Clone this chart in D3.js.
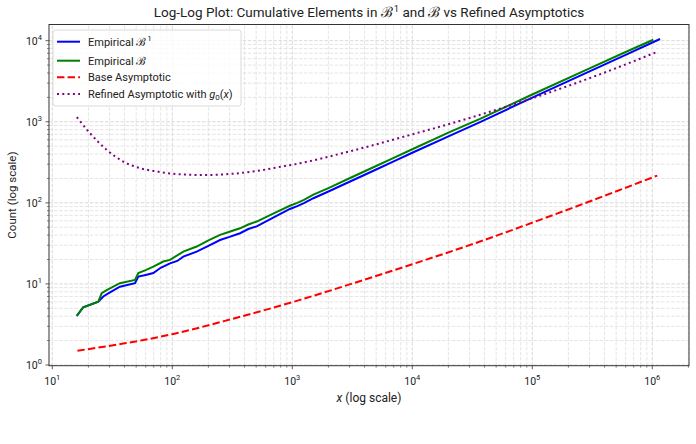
<!DOCTYPE html>
<html>
<head>
<meta charset="utf-8">
<script src="https://cdn.jsdelivr.net/npm/d3@7"></script>
<style>
  body { margin: 0; background: #fff; }
  svg { font-family: Roboto, "Open Sans", sans-serif; }
  .grid line { stroke: #cfcfcf; stroke-width: 0.8; stroke-dasharray: 3.5,1.6; }
  .grid line.minor { stroke: #dedede; }
</style>
</head>
<body>
<script>
"use strict";

// data (x, count)
var blueX = [16, 18.1, 24.2, 26.6, 30, 36.6, 48.9, 52.1, 60, 69.5, 80, 95.7, 110, 123.5, 159.7, 200, 250, 300, 367, 430, 505, 700, 955, 1100, 1250, 1500, 2000, 3000, 5000, 7000, 10000, 20650, 36700, 100000, 300000, 600000, 1160000];
var blueY = [4.03, 5.15, 6.03, 7.0, 7.8, 9.25, 10.2, 12.3, 12.9, 13.6, 15.8, 17.9, 19.2, 21.7, 25, 29.5, 34.8, 38, 42.2, 47.5, 51.3, 66, 84, 91, 99, 114, 138, 182, 258, 325, 415, 675, 990, 1990, 4180, 6700, 10500];

var greenX = [16, 18.1, 24.2, 25.8, 28.4, 36.6, 48.9, 52.1, 60, 69.5, 84.1, 95.7, 123.5, 159.7, 200, 250, 300, 367, 430, 505, 700, 955, 1100, 1250, 1500, 2000, 3000, 5000, 7000, 10000, 20650, 36700, 100000, 300000, 600000, 1020000];
var greenY = [4.03, 5.15, 6.03, 7.67, 8.4, 10.2, 11.2, 13.6, 14.8, 16.3, 18.9, 19.8, 25, 28.9, 34.5, 40.2, 44, 48.5, 54, 58.8, 74, 92, 100, 109, 126, 152, 201, 285, 358, 458, 750, 1085, 2170, 4550, 7250, 10280];

var baseX = [16.2, 25, 40, 57.5, 100, 316, 1160, 3162, 10000, 36600, 116000, 316000, 1100000];
var baseY = [1.50, 1.65, 1.85, 2.03, 2.4, 3.7, 6.35, 10.1, 17.5, 33.3, 61.7, 107, 217];

var refX = [16, 20.6, 28.4, 39, 53.8, 74, 102, 140, 194, 266, 367, 505, 794, 1000, 3162, 10000, 20650, 36700, 100000, 316000, 1090000];
var refY = [1143, 724, 451, 323, 268, 244, 228, 222, 220, 224, 233, 247, 278, 295, 440, 700, 945, 1220, 1950, 3550, 7250];

var xTicks = [1, 2, 3, 4, 5, 6];
var yTicks = [0, 1, 2, 3, 4];

var width = 696, height = 444;
var margin = {top: 24.5, right: 7, bottom: 78.3, left: 49};

var x = d3.scaleLog()
    .domain([Math.pow(10, 0.9725), Math.pow(10, 6.306)])
    .range([margin.left, width - margin.right]);
var y = d3.scaleLog()
    .domain([Math.pow(10, -0.009), Math.pow(10, 4.2)])
    .range([height - margin.bottom, margin.top]);

var svg = d3.select("body").append("svg")
    .attr("width", width)
    .attr("height", height);

var x0 = x.range()[0], x1 = x.range()[1];
var y0 = y.range()[0], y1 = y.range()[1];

// grid, major + minor
var grid = svg.append("g").attr("class", "grid");
function decadeTicks(scale){
  var d = scale.domain(), out = [];
  for (var e = Math.floor(Math.log10(d[0])); e <= Math.ceil(Math.log10(d[1])); e++) {
    for (var m = 1; m < 10; m++) {
      var v = m * Math.pow(10, e);
      if (v >= d[0] && v <= d[1]) out.push({v: v, major: m == 1});
    }
  }
  return out;
}
var xt = decadeTicks(x), yt = decadeTicks(y);
grid.selectAll(".gx").data(xt).enter().append("line")
    .attr("class", function(d){ return d.major ? "major" : "minor"; })
    .attr("x1", function(d){ return x(d.v); }).attr("x2", function(d){ return x(d.v); })
    .attr("y1", y0).attr("y2", y1);
grid.selectAll(".gy").data(yt).enter().append("line")
    .attr("class", function(d){ return d.major ? "major" : "minor"; })
    .attr("y1", function(d){ return y(d.v); }).attr("y2", function(d){ return y(d.v); })
    .attr("x1", x0).attr("x2", x1);

// clip
svg.append("defs").append("clipPath").attr("id", "clip")
  .append("rect").attr("x", x0).attr("y", y1).attr("width", x1 - x0).attr("height", y0 - y1);

function pts(xs, ys){ return xs.map(function(v, i){ return [v, ys[i]]; }); }
var line = d3.line()
    .x(function(d){ return x(d[0]); })
    .y(function(d){ return y(d[1]); });
var smooth = d3.line()
    .x(function(d){ return x(d[0]); })
    .y(function(d){ return y(d[1]); })
    .curve(d3.curveMonotoneX);

var plot = svg.append("g").attr("clip-path", "url(#clip)");
plot.append("path").datum(pts(blueX, blueY)).attr("d", line)
    .attr("fill", "none").attr("stroke", "#0000ff").attr("stroke-width", 2);
plot.append("path").datum(pts(greenX, greenY)).attr("d", line)
    .attr("fill", "none").attr("stroke", "#008000").attr("stroke-width", 2);
plot.append("path").datum(pts(baseX, baseY)).attr("d", smooth)
    .attr("fill", "none").attr("stroke", "#ff0000").attr("stroke-width", 2)
    .attr("stroke-dasharray", "7.4,3.2");
plot.append("path").datum(pts(refX, refY)).attr("d", smooth)
    .attr("fill", "none").attr("stroke", "#800080").attr("stroke-width", 2)
    .attr("stroke-dasharray", "2,3.3");

// ticks
var gx = svg.append("g").attr("transform", "translate(0," + y0 + ")");
gx.selectAll(".tk").data(xt).enter().append("line")
    .attr("x1", function(d){ return x(d.v); }).attr("x2", function(d){ return x(d.v); })
    .attr("y1", 0).attr("y2", function(d){ return d.major ? 3.5 : 2; })
    .attr("stroke", "#333").attr("stroke-width", function(d){ return d.major ? 0.8 : 0.6; });
var gy = svg.append("g").attr("transform", "translate(" + x0 + ",0)");
gy.selectAll(".tk").data(yt).enter().append("line")
    .attr("y1", function(d){ return y(d.v); }).attr("y2", function(d){ return y(d.v); })
    .attr("x1", 0).attr("x2", function(d){ return d.major ? -3.5 : -2; })
    .attr("stroke", "#333").attr("stroke-width", function(d){ return d.major ? 0.8 : 0.6; });

var xl = gx.selectAll(".lab").data(xTicks).enter().append("text")
    .attr("x", function(d){ return x(Math.pow(10, d)); })
    .attr("y", 19).attr("text-anchor", "middle")
    .attr("font-size", 10.5).attr("fill", "#222");
xl.append("tspan").text("10");
xl.append("tspan").attr("dy", -5).attr("font-size", 7.5).text(function(d){ return d; });

var yl = gy.selectAll(".lab").data(yTicks).enter().append("text")
    .attr("x", -7).attr("y", function(d){ return y(Math.pow(10, d)) + 4; })
    .attr("text-anchor", "end")
    .attr("font-size", 10.5).attr("fill", "#222");
yl.append("tspan").text("10");
yl.append("tspan").attr("dy", -5).attr("font-size", 7.5).text(function(d){ return d; });

// frame
svg.append("rect").attr("x", x0).attr("y", y1).attr("width", x1 - x0).attr("height", y0 - y1)
    .attr("fill", "none").attr("stroke", "#333").attr("stroke-width", 1);

// calligraphic B helper
function calB(sel, size){
  sel.append("tspan").attr("font-family", "DejaVu Serif").attr("font-size", size * 1.05).text("ℬ");
}

// labels
var cx = (x0 + x1) / 2;
var title = svg.append("text").attr("x", cx).attr("y", 17).attr("text-anchor", "middle")
    .attr("font-size", 13.5).attr("fill", "#222");
title.append("tspan").text("Log-Log Plot: Cumulative Elements in ");
calB(title, 13.5);
title.append("tspan").attr("dx", 1).attr("dy", -5).attr("font-size", 9.5).text("1");
title.append("tspan").attr("dy", 5).text(" and ");
calB(title, 13.5);
title.append("tspan").text(" vs Refined Asymptotics");

var xlab = svg.append("text").attr("x", cx).attr("y", 402).attr("text-anchor", "middle")
    .attr("font-size", 12).attr("fill", "#222");
xlab.append("tspan").attr("font-style", "italic").text("x");
xlab.append("tspan").text(" (log scale)");

svg.append("text").attr("transform", "translate(16," + ((y0 + y1) / 2) + ") rotate(-90)")
    .attr("text-anchor", "middle").attr("font-size", 11.5).attr("fill", "#222")
    .text("Count (log scale)");

// legend
var lg = svg.append("g").attr("transform", "translate(53,30)");
lg.append("rect").attr("width", 188).attr("height", 76).attr("rx", 2.5)
    .attr("fill", "#fff").attr("fill-opacity", 0.8).attr("stroke", "#d0d0d0").attr("stroke-width", 0.8);
var items = [
  {c: "#0000ff", dash: null},
  {c: "#008000", dash: null},
  {c: "#ff0000", dash: "7.4,3.2"},
  {c: "#800080", dash: "2,3.3"}
];
var rowY = [11.7, 30.7, 47.3, 64];
items.forEach(function(it, i){
  lg.append("line").attr("x1", 4).attr("x2", 27).attr("y1", rowY[i]).attr("y2", rowY[i])
    .attr("stroke", it.c).attr("stroke-width", 2).attr("stroke-dasharray", it.dash);
});
function legText(i){
  return lg.append("text").attr("x", 35).attr("y", rowY[i] + 3.8)
    .attr("font-size", 11).attr("fill", "#222");
}
var t0 = legText(0);
t0.append("tspan").text("Empirical ");
calB(t0, 11);
t0.append("tspan").attr("dx", 1).attr("dy", -4.5).attr("font-size", 8).text("1");
var t1 = legText(1);
t1.append("tspan").text("Empirical ");
calB(t1, 11);
legText(2).text("Base Asymptotic");
var t3 = legText(3);
t3.append("tspan").text("Refined Asymptotic with ");
t3.append("tspan").attr("font-style", "italic").text("g");
t3.append("tspan").attr("dy", 2).attr("font-size", 8).text("0");
t3.append("tspan").attr("dy", -2).text("(");
t3.append("tspan").attr("font-style", "italic").text("x");
t3.append("tspan").text(")");
</script>
</body>
</html>
